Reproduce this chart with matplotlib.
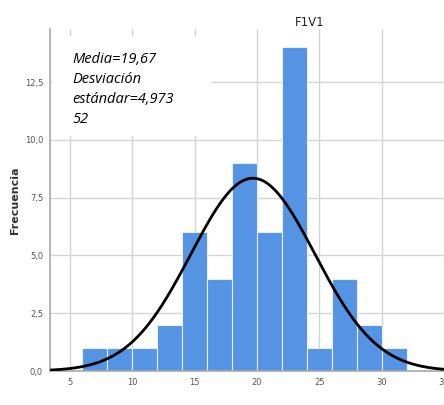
import numpy as np
import matplotlib
matplotlib.use('Agg')
import matplotlib.pyplot as plt
from matplotlib.patches import Rectangle
from matplotlib.ticker import FuncFormatter

# Histogram bins (width 2) and counts.
bin_edges = [6, 8, 10, 12, 14, 16, 18, 20, 22, 24, 26, 28, 30, 32]
counts = [1, 1, 1, 2, 6, 4, 9, 6, 14, 1, 4, 2, 1]
mean = 19.67
std = 4.97352
n_total = sum(counts)

y_ticks = [0, 2.5, 5, 7.5, 10, 12.5]
x_ticks = [5, 10, 15, 20, 25, 30, 35]

fig = plt.figure(figsize=(4.44, 4.05), dpi=100)
# Axes spans 50px..464px horizontally (cut off at the right edge, like the reference).
ax = fig.add_axes([50 / 444, 1 - 371 / 405, 414 / 444, 342 / 405])

widths = np.diff(bin_edges)
ax.bar(bin_edges[:-1], counts, width=widths, align='edge', color='#5593e3',
       edgecolor='#e8eefa', linewidth=0.8, zorder=2)

# Normal curve scaled to the histogram.
xs = np.linspace(3.4, 36.6, 400)
pdf = np.exp(-0.5 * ((xs - mean) / std) ** 2) / (std * np.sqrt(2 * np.pi))
ax.plot(xs, pdf * n_total * 2, color='black', linewidth=2.0, zorder=3)

ax.set_xlim(3.4, 36.6)
ax.set_ylim(0, 14.8)
ax.set_xticks(x_ticks)
ax.set_yticks(y_ticks)
ax.xaxis.set_major_formatter(FuncFormatter(lambda v, p: '%d' % v))
ax.yaxis.set_major_formatter(FuncFormatter(lambda v, p: ('%.1f' % v).replace('.', ',')))
ax.tick_params(axis='both', labelsize=6, colors='#555555', length=0, pad=5)
ax.grid(True, color='#d4d4d4', linewidth=1.0, zorder=0)
ax.set_axisbelow(True)

for side in ['top', 'right']:
    ax.spines[side].set_visible(False)
for side in ['left', 'bottom']:
    ax.spines[side].set_color('#a8a8a8')
    ax.spines[side].set_linewidth(1.2)

# White panel behind the stats text hides the gridlines there.
ax.add_patch(Rectangle((0.004, 0.687), 0.387, 0.293, transform=ax.transAxes,
                       facecolor='white', edgecolor='none', zorder=1.5))
ax.text(0.055, 0.932, 'Media=19,67\nDesviación\nestándar=4,973\n52',
        transform=ax.transAxes, ha='left', va='top', fontsize=10.5,
        style='italic', family='Open Sans', linespacing=1.45, zorder=4)

fig.text(310 / 444, 1 - 22 / 405, 'F1V1', ha='center', va='center',
         fontsize=8.5, color='#222222')
fig.text(15 / 444, 1 - 200 / 405, 'Frecuencia', ha='center', va='center',
         rotation=90, fontsize=8, fontweight='bold', color='#333333')
fig.text(257 / 444, 1 - 410 / 405, 'F1VI', ha='center', va='center',
         fontsize=8.5, fontweight='bold', color='#333333')

fig.savefig('out.png', dpi=100)
